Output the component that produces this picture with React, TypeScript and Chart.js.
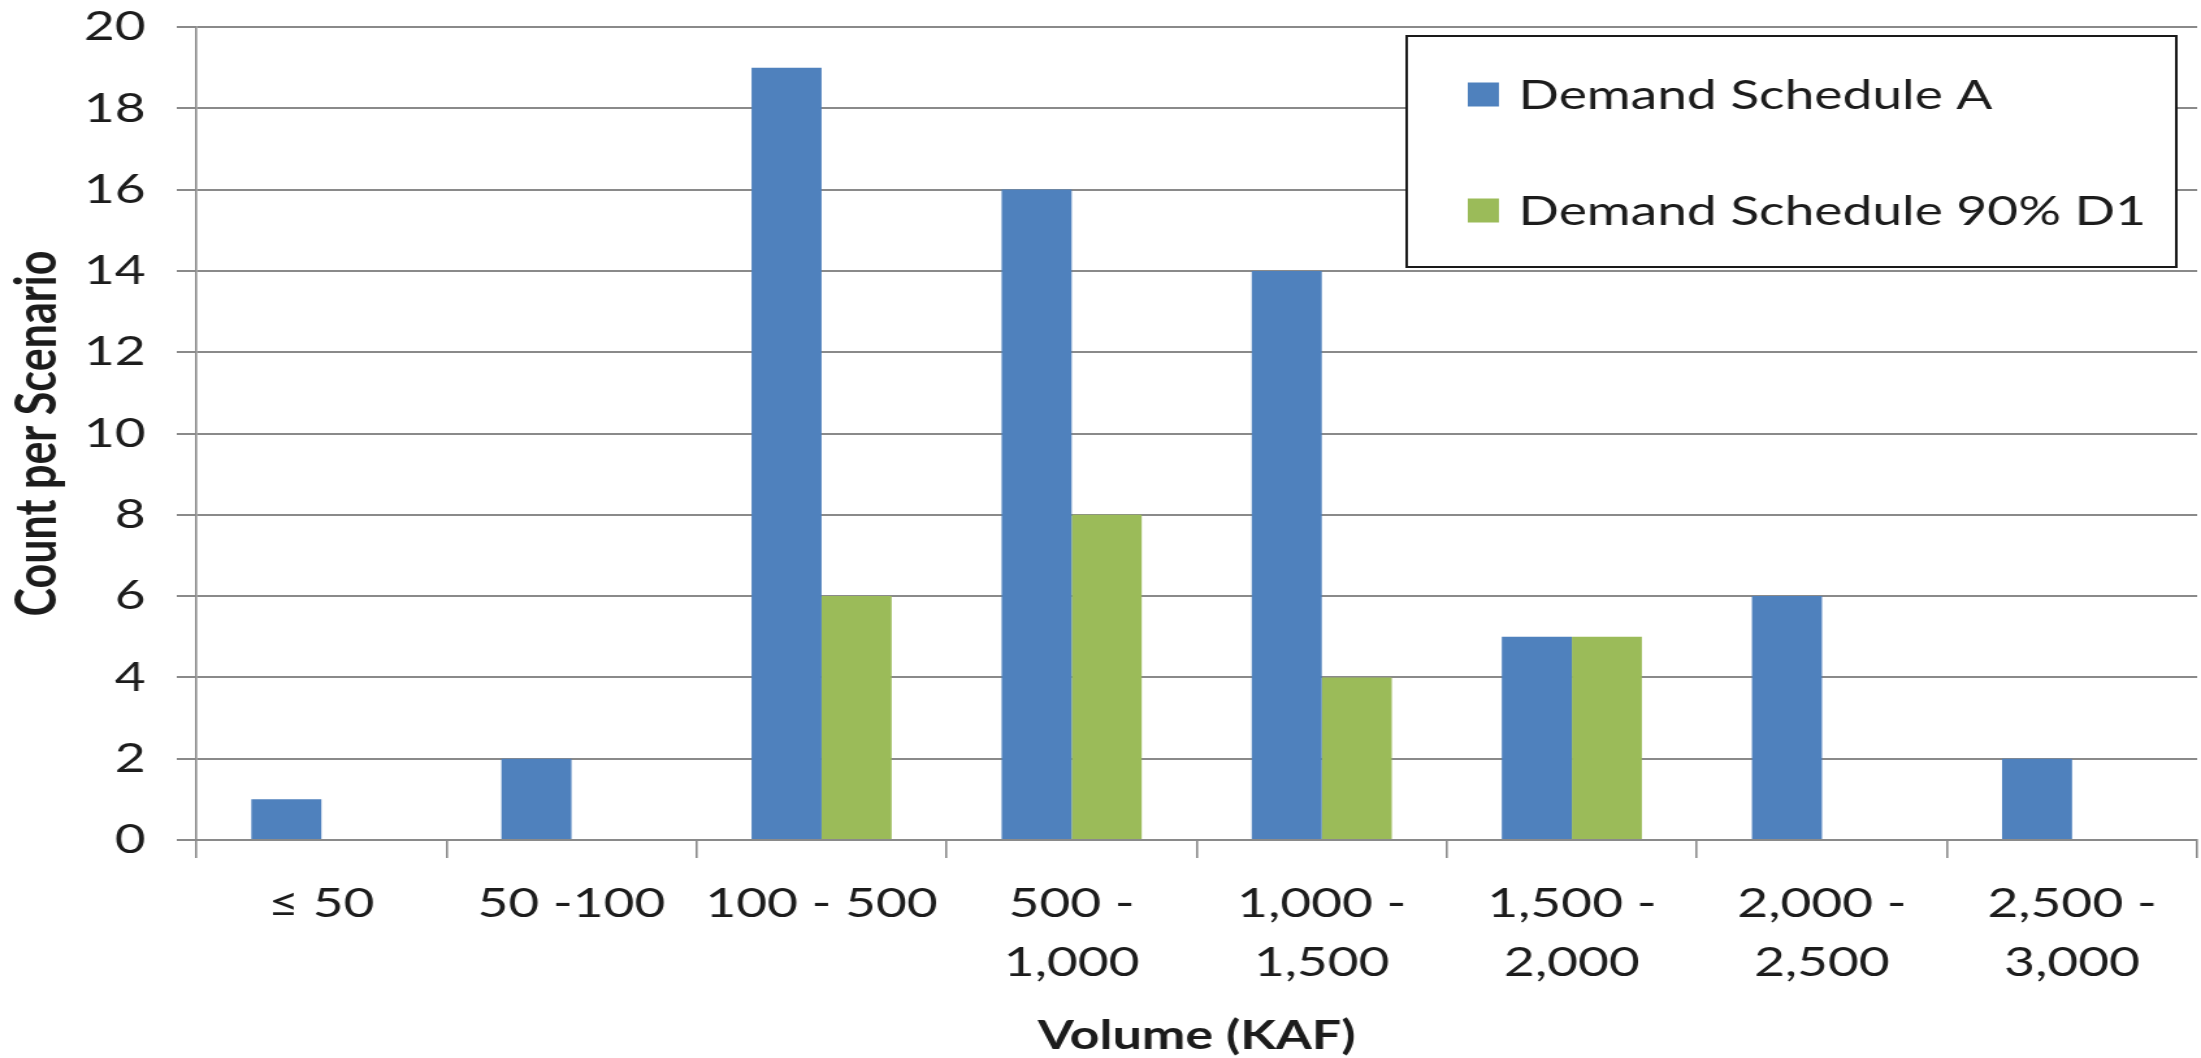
import { useEffect, useRef } from "react";
import { Chart, registerables } from "chart.js";

Chart.register(...registerables);

// ---- data ----
const categories: (string | string[])[] = [
  "≤ 50",
  "50 -100",
  "100 - 500",
  ["500 -", "1,000"],
  ["1,000 -", "1,500"],
  ["1,500 -", "2,000"],
  ["2,000 -", "2,500"],
  ["2,500 -", "3,000"],
];
const scheduleA = [1, 2, 19, 16, 14, 5, 6, 2];
const schedule90D1 = [0, 0, 6, 8, 4, 5, 0, 0];
const seriesNames = ["Demand Schedule A", "Demand Schedule 90% D1"];
const seriesColors = ["#4F81BD", "#9BBB59"];
const yMin = 0;
const yMax = 20;
const yStep = 2;
const xTitle = "Volume (KAF)";
const yTitle = "Count per Scenario";

// ---- look ----
const W = 2201;
const H = 1058;
const STRETCH = 1.3; // reference is horizontally stretched
const INNER_W = Math.round(W / STRETCH);
const FONT = "Lato, 'Open Sans', 'DejaVu Sans', sans-serif";
const TEXT = "#1c1c1c";
const GRID = "#8a8a8a";

const boxLegend = {
  id: "boxLegend",
  beforeDatasetsDraw(chart: any) {
    const { ctx, chartArea } = chart;
    const w = 592;
    const h = 231;
    const right = chartArea.right - 16;
    const left = right - w;
    const top = chartArea.top + 9;
    const rows = [58.5, 174.5];
    ctx.save();
    ctx.fillStyle = "#ffffff";
    ctx.fillRect(left, top, w, h);
    ctx.strokeStyle = "#1a1a1a";
    ctx.lineWidth = 2;
    ctx.strokeRect(left, top, w, h);
    ctx.font = `41px ${FONT}`;
    ctx.textBaseline = "middle";
    ctx.textAlign = "left";
    chart.data.datasets.forEach((ds: any, i: number) => {
      const cy = top + rows[i];
      ctx.fillStyle = ds.backgroundColor;
      ctx.fillRect(left + 47, cy - 12, 24, 24);
      ctx.fillStyle = TEXT;
      ctx.fillText(ds.label, left + 86, cy + 1);
    });
    ctx.restore();
  },
};

export default function App() {
  const ref = useRef<HTMLCanvasElement | null>(null);

  useEffect(() => {
    if (!ref.current) return;
    const chart = new Chart(ref.current, {
      type: "bar",
      data: {
        labels: categories,
        datasets: [
          {
            label: seriesNames[0],
            data: scheduleA,
            backgroundColor: seriesColors[0],
            borderWidth: 0,
            categoryPercentage: 0.56,
            barPercentage: 1.0,
          },
          {
            label: seriesNames[1],
            data: schedule90D1,
            backgroundColor: seriesColors[1],
            borderWidth: 0,
            categoryPercentage: 0.56,
            barPercentage: 1.0,
          },
        ],
      },
      options: {
        responsive: false,
        devicePixelRatio: 1,
        animation: false,
        layout: { padding: { left: 0, right: 3, top: 27, bottom: 0 } },
        plugins: {
          legend: { display: false },
          tooltip: { enabled: false },
        },
        scales: {
          x: {
            grid: {
              display: true,
              drawOnChartArea: false,
              drawTicks: true,
              tickLength: 18,
              offset: true,
              color: GRID,
              lineWidth: 1.6,
            },
            border: { display: true, color: GRID, width: 2 },
            ticks: {
              autoSkip: false,
              maxRotation: 0,
              minRotation: 0,
              padding: 16,
              color: TEXT,
              font: { family: FONT, size: 41, lineHeight: 1.45 },
            },
            title: {
              display: true,
              text: xTitle,
              color: TEXT,
              padding: { top: 0, bottom: 0 },
              font: { family: FONT, size: 40, weight: "bold", lineHeight: 1.1 },
            },
            afterFit: (scale: any) => {
              scale.height = 218;
              scale.paddingLeft = 0;
              scale.paddingRight = 0;
            },
          },
          y: {
            min: yMin,
            max: yMax,
            ticks: {
              stepSize: yStep,
              padding: 24,
              color: TEXT,
              font: { family: FONT, size: 41 },
            },
            grid: {
              color: GRID,
              lineWidth: 2,
              drawTicks: true,
              tickLength: 15,
            },
            border: { display: true, color: GRID, width: 1.6 },
            title: {
              display: true,
              text: yTitle,
              color: TEXT,
              padding: { top: 3, bottom: 0 },
              font: { family: FONT, size: 43, weight: "bold", lineHeight: 1.2 },
            },
            afterFit: (scale: any) => {
              scale.width = 151;
              scale.paddingTop = 0;
              scale.paddingBottom = 0;
            },
          },
        },
      },
      plugins: [boxLegend],
    });
    return () => chart.destroy();
  }, []);

  return (
    <div
      style={{
        position: "fixed",
        left: 0,
        top: 0,
        width: W,
        height: H,
        background: "#ffffff",
        overflow: "hidden",
      }}
    >
      <canvas
        ref={ref}
        width={INNER_W}
        height={H}
        style={{ width: `${W}px`, height: `${H}px`, display: "block" }}
      />
    </div>
  );
}
